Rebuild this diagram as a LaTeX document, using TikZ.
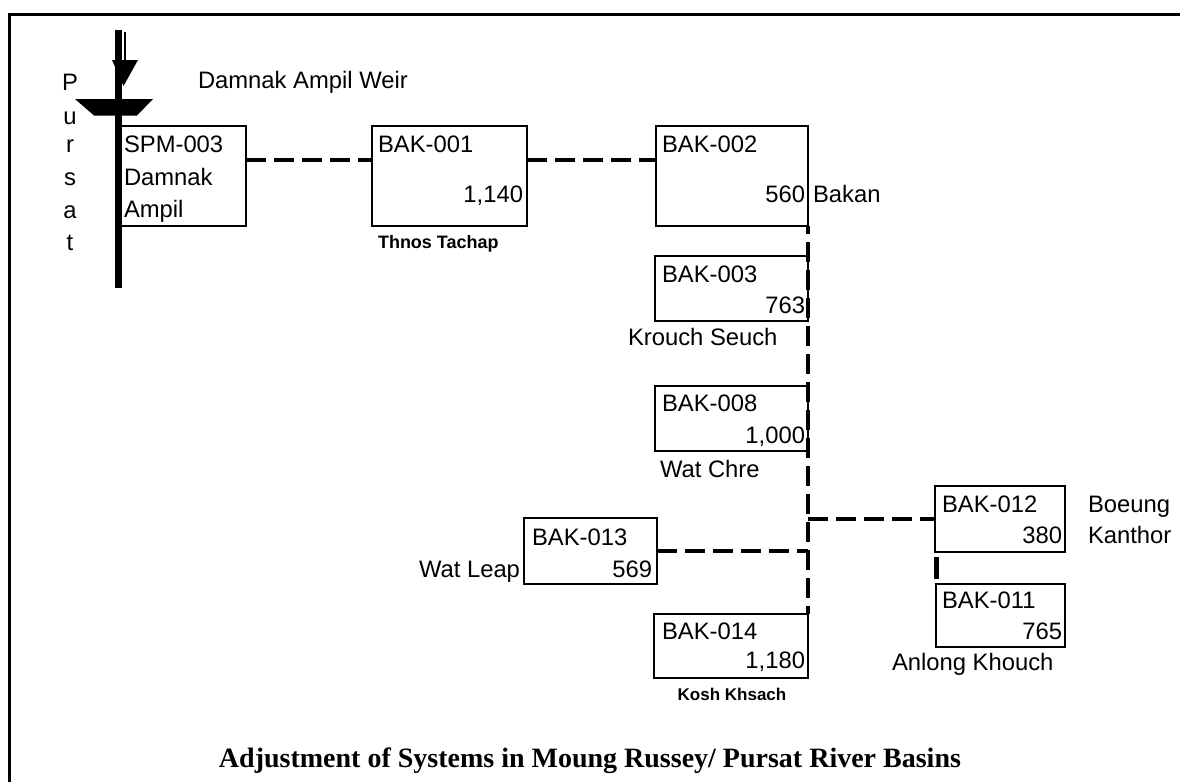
\documentclass[tikz,border=0pt]{standalone}
\usepackage{fontspec}
\setmainfont{Liberation Serif}
\newfontfamily\arialf{Liberation Sans}
\tikzset{
  every node/.style={inner sep=0pt, outer sep=0pt},
  txt/.style={font=\arialf\fontsize{23.8}{28}\selectfont},
  small/.style={font=\arialf\bfseries\fontsize{18}{22}\selectfont},
  sysbox/.style={draw, line width=2.6pt, anchor=north west},
  conn/.style={line width=4.5pt, dash pattern=on 20pt off 8pt},
  link/.style={line width=4.5pt},
}
\begin{document}
\begin{tikzpicture}[x=1pt,y=-1pt]
\useasboundingbox (0,0) rectangle (1180,782);
% frame
\draw[line width=3pt] (1180,14) -- (9.5,14) -- (9.5,782);
% river
\coordinate (rtop) at (118,30);
\coordinate (rbot) at (118,288);
\draw[line width=7pt] (rtop) -- (rbot);
\draw[line width=2pt] (125,32) -- (125,61);
\fill (112,60) -- (138,60) -- (123.5,86) -- cycle;
\fill (75,99) -- (153,99) -- (137,115.5) -- (94,115.5) -- cycle;
\foreach \ch/\yy [count=\i] in {P/90,u/124,r/152,s/185,a/218,t/250}
  \node[txt, anchor=base] (purs\i) at (70,\yy) {\ch};
\node[txt, anchor=base west] (weir) at (198,88) {Damnak Ampil Weir};

% boxes
\node[sysbox, minimum width=125pt, minimum height=100pt] (spm) at (121,126) {};
\node[sysbox, minimum width=155pt, minimum height=100pt] (bak1) at (372,126) {};
\node[sysbox, minimum width=152pt, minimum height=100pt] (bak2) at (656,126) {};
\node[sysbox, minimum width=153pt, minimum height=65pt] (bak3) at (655,256) {};
\node[sysbox, minimum width=153pt, minimum height=65pt] (bak8) at (655,386) {};
\node[sysbox, minimum width=133pt, minimum height=66pt] (bak13) at (524,518) {};
\node[sysbox, minimum width=154pt, minimum height=64pt] (bak14) at (654,614) {};
\node[sysbox, minimum width=130pt, minimum height=66pt] (bak12) at (935,486) {};
\node[sysbox, minimum width=129pt, minimum height=63pt] (bak11) at (936,584) {};

% box texts
\node[txt, anchor=base west] (t-spm-a) at (124,152) {SPM-003};
\node[txt, anchor=base west] (t-spm-b) at (124,185) {Damnak};
\node[txt, anchor=base west] (t-spm-c) at (124,217) {Ampil};

\node[txt, anchor=base west] (t-b1-a) at (378,152) {BAK-001};
\node[txt, anchor=base east] (t-b1-b) at (523,202) {1,140};
\node[small, anchor=base west] (t-b1-c) at (378,248) {Thnos Tachap};

\node[txt, anchor=base west] (t-b2-a) at (662,152) {BAK-002};
\node[txt, anchor=base east] (t-b2-b) at (805,202) {560};
\node[txt, anchor=base west] (t-b2-c) at (813,202) {Bakan};

\node[txt, anchor=base west] (t-b3-a) at (662,282) {BAK-003};
\node[txt, anchor=base east] (t-b3-b) at (805,313) {763};
\node[txt, anchor=base west] (t-b3-c) at (628,345) {Krouch Seuch};

\node[txt, anchor=base west] (t-b8-a) at (662,411) {BAK-008};
\node[txt, anchor=base east] (t-b8-b) at (805,443) {1,000};
\node[txt, anchor=base west] (t-b8-c) at (660,477) {Wat Chre};

\node[txt, anchor=base west] (t-b13-a) at (532,545) {BAK-013};
\node[txt, anchor=base east] (t-b13-b) at (652,577) {569};
\node[txt, anchor=base east] (t-b13-c) at (520,577) {Wat Leap};

\node[txt, anchor=base west] (t-b14-a) at (662,639) {BAK-014};
\node[txt, anchor=base east] (t-b14-b) at (805,668) {1,180};
\node[small, anchor=base, font=\arialf\bfseries\fontsize{17}{20}\selectfont] (t-b14-c) at (732,700) {Kosh Khsach};

\node[txt, anchor=base west] (t-b12-a) at (942,512) {BAK-012};
\node[txt, anchor=base east] (t-b12-b) at (1062,543) {380};
\node[txt, anchor=base west] (t-b12-c) at (1088,512) {Boeung};
\node[txt, anchor=base west] (t-b12-d) at (1088,543) {Kanthor};

\node[txt, anchor=base west] (t-b11-a) at (942,608) {BAK-011};
\node[txt, anchor=base east] (t-b11-b) at (1062,639) {765};
\node[txt, anchor=base west] (t-b11-c) at (892,670) {Anlong Khouch};

% connectors
\draw[conn] ([yshift=16pt]spm.east) -- ([yshift=16pt]bak1.west);
\draw[conn] ([yshift=16pt]bak1.east) -- ([yshift=16pt]bak2.west);
\draw[conn, dash phase=12pt] (bak2.south east) -- (bak14.north east);
\draw[conn] (bak13.east) -- (bak13.east -| bak2.south east);
\draw[conn] (bak2.south east |- bak12.west) -- (bak12.west);
\draw[link, shorten <=5pt, shorten >=5pt] ([xshift=1.5pt]bak12.south west) -- ([xshift=1.5pt]bak12.south west |- bak11.north west);

% title
\node[anchor=base, font=\bfseries\fontsize{28}{32}\selectfont] (title) at (590,767)
  {Adjustment of Systems in Moung Russey/ Pursat River Basins};
\end{tikzpicture}
\end{document}
